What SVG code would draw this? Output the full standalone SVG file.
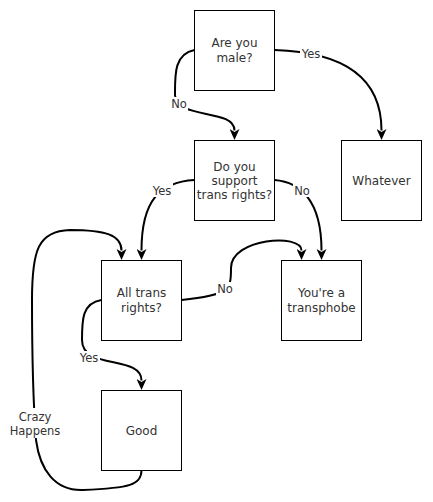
<svg xmlns="http://www.w3.org/2000/svg" width="433" height="502" viewBox="0 0 433 502">
<style>
.box{fill:#fff;stroke:#000;stroke-width:1}
.t{font-family:"DejaVu Sans",Verdana,sans-serif;font-size:12px;fill:#333;text-anchor:middle}
.lbl{font-family:"DejaVu Sans",Verdana,sans-serif;font-size:11.5px;fill:#333;text-anchor:middle}
.e{fill:none;stroke:#000;stroke-width:2}
.bg{fill:#fff}
</style>
<defs>
<marker id="arr" viewBox="0 0 11 10" refX="1.5" refY="5" markerWidth="11" markerHeight="10" markerUnits="userSpaceOnUse" orient="auto">
<path d="M0,0 L11,5 L0,10 L3,5 Z" fill="#000"/>
</marker>
</defs>
<rect width="433" height="502" fill="#fff"/>
<g id="connectors">
<path class="e" marker-end="url(#arr)" d="M274.5,50 C340,52 381.5,75 381.5,130.5"/>
<path class="e" marker-end="url(#arr)" d="M194.5,50 C174,54 175,75 175,95 C176,120 234.5,108 234.5,130.5"/>
<path class="e" marker-end="url(#arr)" d="M194.5,180 C160,182 141.5,200 141.5,250.5"/>
<path class="e" marker-end="url(#arr)" d="M274.5,180 C300,182 321.5,200 321.5,250.5"/>
<path class="e" marker-end="url(#arr)" d="M181.5,300 C230,295 231,290 231,268 C231,238 301.5,233 301.5,250.5"/>
<path class="e" marker-end="url(#arr)" d="M101.5,300 C82,303 82,320 82,340 C82,370 141.5,355 141.5,380.5"/>
<path class="e" marker-end="url(#arr)" d="M141.5,470 C141.5,485 130,488 83,490 C55,491 40,470 36,440 C33,400 32,360 32,300 C32,250 38,231 70,230 C105,230 121.5,235 121.5,250.5"/>
<rect class="bg" x="300" y="46" width="22" height="14"/>
<text class="lbl" x="311" y="58">Yes</text>
<rect class="bg" x="170" y="97" width="18" height="14"/>
<text class="lbl" x="179" y="108">No</text>
<rect class="bg" x="151" y="183" width="22" height="14"/>
<text class="lbl" x="162" y="194.5">Yes</text>
<rect class="bg" x="293" y="183" width="18" height="14"/>
<text class="lbl" x="302" y="194.5">No</text>
<rect class="bg" x="216" y="282" width="18" height="14"/>
<text class="lbl" x="225" y="293">No</text>
<rect class="bg" x="78" y="351" width="22" height="14"/>
<text class="lbl" x="89" y="362">Yes</text>
<rect class="bg" x="9" y="408" width="52" height="30"/>
<text class="lbl" x="35" y="421">Crazy</text>
<text class="lbl" x="35" y="435">Happens</text>
</g>
<g id="n1"><rect class="box" x="194.5" y="10.5" width="80" height="80"/><text class="t" x="234.5" y="47">Are you</text><text class="t" x="234.5" y="62">male?</text></g>
<g id="n2"><rect class="box" x="194.5" y="140.5" width="80" height="80"/><text class="t" x="234.5" y="171">Do you</text><text class="t" x="234.5" y="185">support</text><text class="t" x="234.5" y="199">trans rights?</text></g>
<g id="n3"><rect class="box" x="341.5" y="140.5" width="80" height="80"/><text class="t" x="381.5" y="185">Whatever</text></g>
<g id="n4"><rect class="box" x="101.5" y="260.5" width="80" height="80"/><text class="t" x="141.5" y="297">All trans</text><text class="t" x="141.5" y="312">rights?</text></g>
<g id="n5"><rect class="box" x="281.5" y="260.5" width="80" height="80"/><text class="t" x="321.5" y="297">You're a</text><text class="t" x="321.5" y="312">transphobe</text></g>
<g id="n6"><rect class="box" x="101.5" y="390.5" width="80" height="80"/><text class="t" x="141.5" y="435">Good</text></g>
</svg>
